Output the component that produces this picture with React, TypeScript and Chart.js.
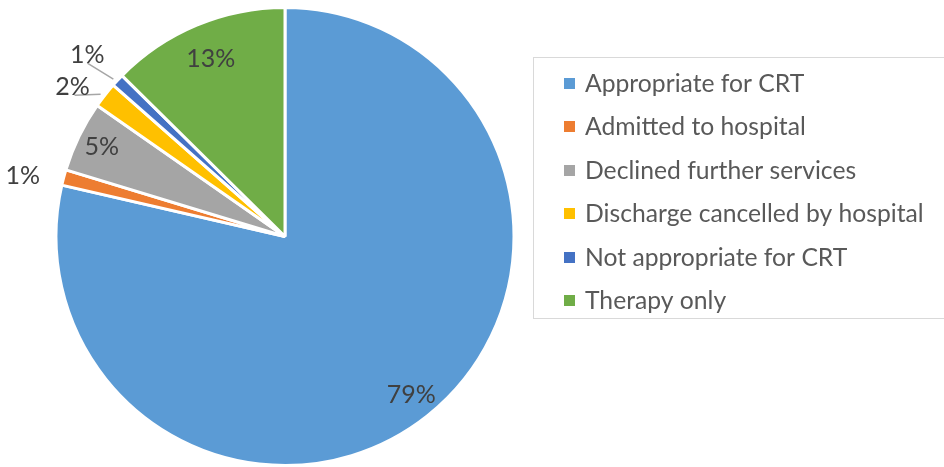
import React, { useEffect, useRef } from "react";
import { Chart, registerables } from "chart.js";

Chart.register(...registerables);

const categories = [
  "Appropriate for CRT",
  "Admitted to hospital",
  "Declined further services",
  "Discharge cancelled by hospital",
  "Not appropriate for CRT",
  "Therapy only",
];
const shares = [78.6, 1.1, 5.0, 1.8, 0.9, 12.6];
const sliceColors = ["#5B9BD5", "#ED7D31", "#A5A5A5", "#FFC000", "#4472C4", "#70AD47"];

const FONT = "Lato, 'Open Sans', sans-serif";

type Place =
  | { kind: "in"; f: number }
  | { kind: "out"; dx: number; dy: number }
  | { kind: "leader"; lx: number; ly: number; tx: number; ty: number };

const placements: Place[] = [
  { kind: "in", f: 0.885 },
  { kind: "out", dx: -38, dy: -1 },
  { kind: "in", f: 0.89 },
  { kind: "leader", lx: -28, ly: 2, tx: -30, ty: -6 },
  { kind: "leader", lx: -28, ly: -15, tx: -28, ty: -23 },
  { kind: "in", f: 0.84 },
];

export default function App() {
  const ref = useRef<HTMLCanvasElement>(null);

  useEffect(() => {
    document.body.style.margin = "0";
    const canvas = ref.current;
    if (!canvas) return;
    const total = shares.reduce((a, b) => a + b, 0);

    const labelPlugin = {
      id: "pctLabels",
      afterDatasetsDraw(chart: any) {
        const ctx = chart.ctx as CanvasRenderingContext2D;
        const meta = chart.getDatasetMeta(0);
        ctx.save();
        ctx.font = `25px ${FONT}`;
        ctx.fillStyle = "#404040";
        ctx.textAlign = "center";
        ctx.textBaseline = "middle";
        meta.data.forEach((arc: any, i: number) => {
          const { x, y, startAngle, endAngle, outerRadius } = arc.getProps(
            ["x", "y", "startAngle", "endAngle", "outerRadius"],
            true
          );
          const mid = (startAngle + endAngle) / 2;
          const c = Math.cos(mid);
          const s = Math.sin(mid);
          const text = Math.round((shares[i] / total) * 100) + "%";
          const p = placements[i];
          if (p.kind === "in") {
            ctx.fillText(text, x + c * outerRadius * p.f, y + s * outerRadius * p.f);
          } else {
            const ex = x + c * (outerRadius + 3);
            const ey = y + s * (outerRadius + 3);
            if (p.kind === "out") {
              ctx.fillText(text, ex + p.dx, ey + p.dy);
            } else {
              ctx.strokeStyle = "#A6A6A6";
              ctx.lineWidth = 1.5;
              ctx.beginPath();
              ctx.moveTo(ex - 2, ey + 1);
              ctx.lineTo(ex + p.lx, ey + p.ly);
              ctx.stroke();
              ctx.fillText(text, ex + p.tx, ey + p.ty);
            }
          }
        });
        ctx.restore();
      },
    };

    const legendPlugin = {
      id: "boxLegend",
      afterDraw(chart: any) {
        const ctx = chart.ctx as CanvasRenderingContext2D;
        const labels = chart.data.labels as string[];
        const colors = chart.data.datasets[0].backgroundColor as string[];
        ctx.save();
        ctx.strokeStyle = "#D9D9D9";
        ctx.lineWidth = 1;
        ctx.strokeRect(533.5, 57.5, 430, 261);
        ctx.font = `24.7px ${FONT}`;
        ctx.textAlign = "left";
        ctx.textBaseline = "middle";
        labels.forEach((lab, i) => {
          const cy = 83 + i * 43.5;
          ctx.fillStyle = colors[i];
          ctx.fillRect(564, Math.round(cy - 5.5), 11, 11);
          ctx.fillStyle = "#595959";
          ctx.fillText(lab, 585, cy + 1);
        });
        ctx.restore();
      },
    };

    const chart = new Chart(canvas, {
      type: "pie",
      data: {
        labels: categories,
        datasets: [
          {
            data: shares,
            backgroundColor: sliceColors,
            borderColor: "#FFFFFF",
            borderWidth: 3,
          },
        ],
      },
      options: {
        responsive: false,
        animation: false,
        devicePixelRatio: 1,
        layout: { padding: { left: 54, right: 428, top: 6, bottom: 0 } },
        plugins: {
          legend: { display: false },
          tooltip: { enabled: false },
        },
        events: [],
      },
      plugins: [labelPlugin, legendPlugin],
    });
    return () => chart.destroy();
  }, []);

  return (
    <canvas
      ref={ref}
      width={944}
      height={467}
      style={{ display: "block", width: 944, height: 467 }}
    />
  );
}
